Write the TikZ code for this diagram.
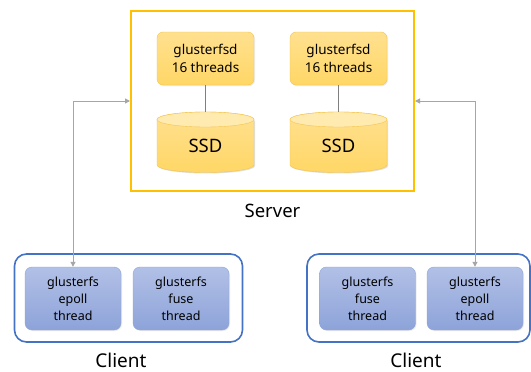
\documentclass[tikz,border=0pt]{standalone}
\usepackage{fontspec}
\setmainfont{Noto Sans}
\usetikzlibrary{arrows.meta,shadows}
\definecolor{srvline}{HTML}{FFC000}
\definecolor{orfill}{HTML}{FFD766}
\definecolor{ortop}{HTML}{FFE08F}
\definecolor{orlid}{HTML}{FFEAB0}
\definecolor{orline}{HTML}{F4C550}
\definecolor{cltline}{HTML}{4472C4}
\definecolor{bltop}{HTML}{B2C0E6}
\definecolor{blbot}{HTML}{8DA3D9}
\definecolor{blline}{HTML}{8EA4D6}
\definecolor{conn}{HTML}{A6A6A6}
\definecolor{stem}{HTML}{808080}
\tikzset{
  daemon/.style={rectangle, rounded corners=6pt, draw=orline, top color=ortop, bottom color=orfill,
    minimum width=97pt, minimum height=53pt, align=center, font=\fontsize{13.5}{18}\selectfont,
    drop shadow={opacity=0.15, shadow xshift=1pt, shadow yshift=-1pt}},
  worker/.style={rectangle, rounded corners=7pt, draw=blline, top color=bltop, bottom color=blbot,
    minimum width=96pt, minimum height=63pt, align=center, font=\fontsize{12.5}{17}\selectfont,
    drop shadow={opacity=0.15, shadow xshift=1pt, shadow yshift=-1pt}},
  host/.style={rectangle, rounded corners=12pt, draw=cltline, line width=1.6pt, fill=white},
  caption/.style={font=\fontsize{19}{22}\selectfont, inner sep=0pt},
  link/.style={draw=stem, line width=1pt},
  conarrow/.style={conn, line width=1pt, {Triangle[width=5pt,length=5pt]}-{Triangle[width=5pt,length=5pt]}},
}
% SSD cylinder: #1 left x, #2 right x, #3 node name
\newcommand{\ssddisk}[3]{%
  \fill[black, opacity=0.12] (#1+1,120.5) -- (#1+1,166) arc[start angle=180, end angle=360, x radius={(#2-#1)/2}, y radius=-7.5] -- (#2+1,120.5) -- cycle;
  \path[draw=orline, top color=ortop, bottom color=orfill] (#1,119.5) -- (#1,165)
     arc[start angle=180, end angle=360, x radius={(#2-#1)/2}, y radius=-7.5] -- (#2,119.5)
     arc[start angle=0, end angle=180, x radius={(#2-#1)/2}, y radius=-7.5] -- cycle;
  \path[draw=orline, fill=orlid] ({(#1+#2)/2},119.5) ellipse[x radius={(#2-#1)/2}, y radius=7.5];
  \node[inner sep=0pt, minimum width={#2-#1}, minimum height=60pt] (#3) at ({(#1+#2)/2},142) {};
  \node[font=\fontsize{18.5}{20}\selectfont] (#3txt) at ({(#1+#2)/2},146) {SSD};
}
\begin{document}
\begin{tikzpicture}[x=1pt, y=-1pt]
\useasboundingbox (0,0) rectangle (531,372);
\fill[white] (0,0) rectangle (531,372);

% server frame
\node[draw=srvline, line width=2pt, minimum width=283pt, minimum height=180pt, inner sep=0pt]
  (server) at (272.5,101) {};
\node[caption, font=\fontsize{18.5}{22}\selectfont] (srvlabel) at (272.5,211) {Server};

% daemons
\node[daemon] (d1) at (205.5,58.5) {glusterfsd\\16 threads};
\node[daemon] (d2) at (338.5,58.5) {glusterfsd\\16 threads};

% SSD cylinders
\ssddisk{157}{254}{ssdA}
\ssddisk{290}{387}{ssdB}

\draw[link] (d1.south) -- (ssdA.north);
\draw[link] (d2.south) -- (ssdB.north);

% clients
\node[host, minimum width=228pt, minimum height=88pt] (hostL) at (128.5,298) {};
\node[host, minimum width=223pt, minimum height=88pt] (hostR) at (418.5,298) {};
\node[caption] (cl1) at (121,360) {Client};
\node[caption] (cl2) at (416,360) {Client};

\node[worker] (epollL) at (73,298.5) {glusterfs\\epoll\\thread};
\node[worker] (fuseL) at (181,298.5) {glusterfs\\fuse\\thread};
\node[worker] (fuseR) at (367.5,298.5) {glusterfs\\fuse\\thread};
\node[worker] (epollR) at (475,298.5) {glusterfs\\epoll\\thread};

% connections to the server
\draw[conarrow] (epollL.north) |- (server.west);
\draw[conarrow] (epollR.north) |- (server.east);
\end{tikzpicture}
\end{document}
